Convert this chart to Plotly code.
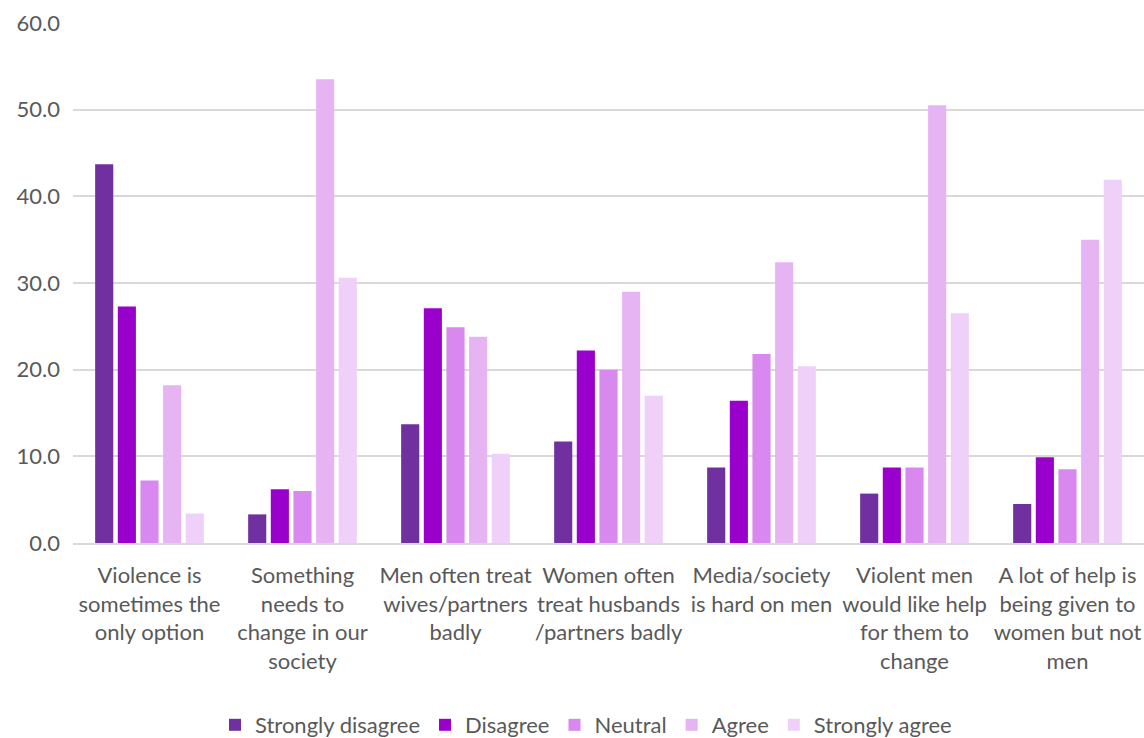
import plotly.graph_objects as go

categories = [
    "Violence is<br>sometimes the<br>only option",
    "Something<br>needs to<br>change in our<br>society",
    "Men often treat<br>wives/partners<br>badly",
    "Women often<br>treat husbands<br>/partners badly",
    "Media/society<br>is hard on men",
    "Violent men<br>would like help<br>for them to<br>change",
    "A lot of help is<br>being given to<br>women but not<br>men",
]

strongly_disagree = [43.7, 3.3, 13.7, 11.7, 8.7, 5.7, 4.5]
disagree = [27.3, 6.2, 27.1, 22.2, 16.4, 8.7, 9.9]
neutral = [7.2, 6.0, 24.9, 20.0, 21.8, 8.7, 8.5]
agree = [18.2, 53.5, 23.8, 29.0, 32.4, 50.5, 35.0]
strongly_agree = [3.4, 30.6, 10.3, 17.0, 20.4, 26.5, 41.9]

series = [
    ("Strongly disagree", strongly_disagree, "#7030A0"),
    ("Disagree", disagree, "#9900CC"),
    ("Neutral", neutral, "#D888EE"),
    ("Agree", agree, "#E7B4F3"),
    ("Strongly agree", strongly_agree, "#EFD0F8"),
]

font_family = "Lato, 'Open Sans', sans-serif"
text_color = "#595959"

fig = go.Figure()
for name, vals, color in series:
    fig.add_trace(go.Bar(
        name=name, x=categories, y=vals,
        marker=dict(color=color, line=dict(width=0)),
    ))

fig.update_layout(
    width=1144, height=738,
    barmode="group", bargap=0.26, bargroupgap=0.2,
    plot_bgcolor="white", paper_bgcolor="white",
    margin=dict(l=73, r=0, t=23, b=195, autoexpand=False),
    font=dict(family=font_family, size=22, color=text_color),
    xaxis=dict(showgrid=False, showline=True, linecolor="#D9D9D9", linewidth=1.5,
               tickangle=0, ticklabelstandoff=12, automargin=False,
               tickfont=dict(size=22, color=text_color), ticks=""),
    yaxis=dict(range=[0, 60], dtick=10, tickformat=".1f", showgrid=True,
               gridcolor="#D9D9D9", gridwidth=1.5, zeroline=False,
               showline=False, ticks="", ticklabelstandoff=12, automargin=False,
               tickfont=dict(size=22, color=text_color)),
    legend=dict(orientation="h", x=0.479, xanchor="center",
                yref="container", y=1 - 725 / 738, yanchor="middle",
                font=dict(size=22, color=text_color), itemwidth=30,
                traceorder="normal"),
    showlegend=True,
)

fig.write_html("out.html")
